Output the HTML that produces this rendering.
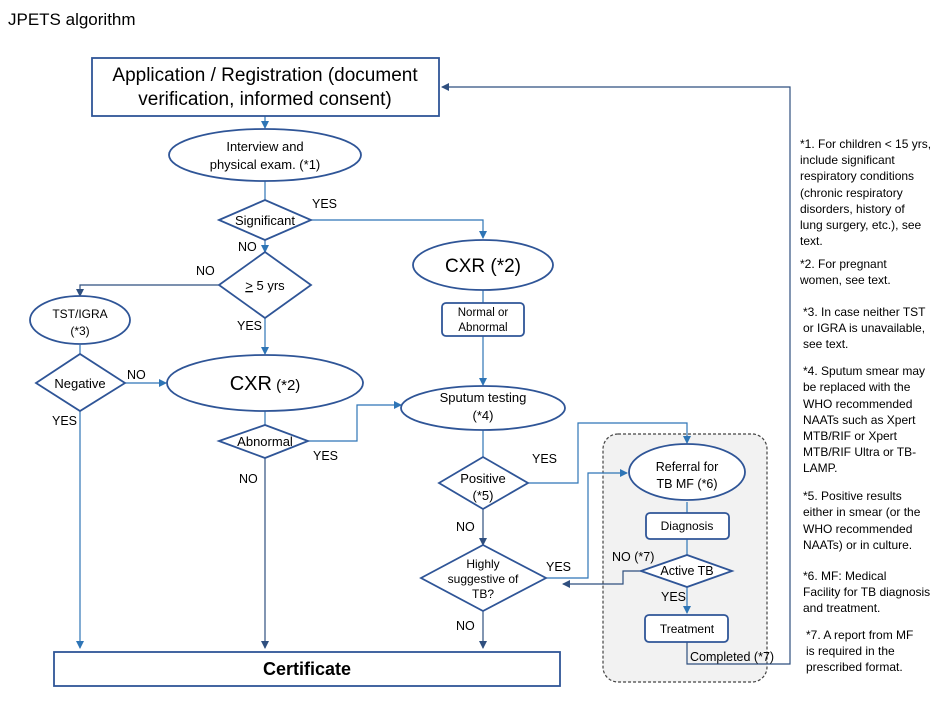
<!DOCTYPE html>
<html><head><meta charset="utf-8"><style>
body{margin:0;background:#fff;}
svg{display:block;font-family:"Liberation Sans",sans-serif;}
</style></head><body>
<svg width="952" height="706" viewBox="0 0 952 706" xmlns="http://www.w3.org/2000/svg">
<defs>
<marker id="a" markerWidth="8" markerHeight="8" refX="7" refY="4" orient="auto" markerUnits="userSpaceOnUse"><path d="M0,0 L8,4 L0,8 z" fill="#2e75b6"/></marker>
<marker id="b" markerWidth="8" markerHeight="8" refX="7" refY="4" orient="auto" markerUnits="userSpaceOnUse"><path d="M0,0 L8,4 L0,8 z" fill="#2f4f7f"/></marker>
</defs>
<text x="8" y="25" font-size="17" fill="#000">JPETS algorithm</text>

<g fill="none" stroke-width="1.2">
<path d="M265,116 V128" stroke="#2e75b6" marker-end="url(#a)"/>
<path d="M265,181 V200" stroke="#2e75b6"/>
<path d="M311,220 H483 V238" stroke="#2e75b6" marker-end="url(#a)"/>
<path d="M265,240 V252" stroke="#2e75b6" marker-end="url(#a)"/>
<path d="M219,285 H80 V296" stroke="#2f4f7f" marker-end="url(#b)"/>
<path d="M80,345 V354" stroke="#2e75b6"/>
<path d="M125,383 H166" stroke="#2e75b6" marker-end="url(#a)"/>
<path d="M265,318 V354" stroke="#2e75b6" marker-end="url(#a)"/>
<path d="M80,411 V648" stroke="#2e75b6" marker-end="url(#a)"/>
<path d="M265,410 V425" stroke="#2e75b6"/>
<path d="M308,441 H357 V405 H401" stroke="#2e75b6" marker-end="url(#a)"/>
<path d="M265,458 V648" stroke="#2f4f7f" marker-end="url(#b)"/>
<path d="M483,290 V303" stroke="#2e75b6"/>
<path d="M483,336 V385" stroke="#2e75b6" marker-end="url(#a)"/>
<path d="M483,430 V457" stroke="#2e75b6"/>
<path d="M483,509 V545" stroke="#2f4f7f" marker-end="url(#b)"/>
<path d="M483,611 V648" stroke="#2f4f7f" marker-end="url(#b)"/>
</g>

<rect x="603" y="434" width="164" height="248" rx="15" fill="#f2f2f2" stroke="#444" stroke-dasharray="3,2" stroke-width="1.2"/>
<g fill="none" stroke-width="1.2">
<path d="M528,483 H578 V423 H687 V443" stroke="#2e75b6" marker-end="url(#a)"/>
<path d="M546,578 H588 V473 H627" stroke="#2e75b6" marker-end="url(#a)"/>
<path d="M687,502 V513" stroke="#2e75b6"/>
<path d="M687,539 V555" stroke="#2e75b6"/>
<path d="M641,571 H623 V584 H563" stroke="#2f4f7f" marker-end="url(#b)"/>
<path d="M687,587 V613" stroke="#2e75b6" marker-end="url(#a)"/>
<path d="M687,642 V664 H790 V87 H442" stroke="#2f4f7f" marker-end="url(#b)"/>
</g>

<g stroke="#2f5597" stroke-width="1.8" fill="#fff">
<rect x="92" y="58" width="347" height="58"/>
<ellipse cx="265" cy="155" rx="96" ry="26"/>
<polygon points="219,220 265,200 311,220 265,240"/>
<polygon points="219,285 265,252 311,285 265,318"/>
<ellipse cx="80" cy="320" rx="50" ry="24"/>
<polygon points="36,383 80,354 125,383 80,411"/>
<ellipse cx="265" cy="383" rx="98" ry="28"/>
<polygon points="219,441 265,425 308,441 265,458"/>
<ellipse cx="483" cy="265" rx="70" ry="25"/>
<rect x="442" y="303" width="82" height="33" rx="4"/>
<ellipse cx="483" cy="408" rx="82" ry="22"/>
<polygon points="439,483 483,457 528,483 483,509"/>
<polygon points="421,578 483,545 546,578 483,611"/>
<rect x="54" y="652" width="506" height="34"/>
<ellipse cx="687" cy="472" rx="58" ry="28"/>
<rect x="646" y="513" width="83" height="26" rx="4"/>
<polygon points="641,571 687,555 732,571 687,587"/>
<rect x="645" y="615" width="83" height="27" rx="4"/>
</g>

<g fill="#000" text-anchor="middle">
<text x="265" y="81" font-size="19">Application / Registration (document</text>
<text x="265" y="105" font-size="19">verification, informed consent)</text>
<text x="265" y="151" font-size="13">Interview and</text>
<text x="265" y="169" font-size="13">physical exam. (*1)</text>
<text x="265" y="225" font-size="13">Significant</text>
<text x="265" y="290" font-size="13"><tspan text-decoration="underline">&gt;</tspan> 5 yrs</text>
<text x="80" y="318" font-size="12">TST/IGRA</text>
<text x="80" y="335" font-size="12">(*3)</text>
<text x="80" y="388" font-size="13">Negative</text>
<text x="265" y="390"><tspan font-size="20">CXR</tspan><tspan font-size="15"> (*2)</tspan></text>
<text x="265" y="446" font-size="13">Abnormal</text>
<text x="483" y="272" font-size="19">CXR (*2)</text>
<text x="483" y="316" font-size="11.5">Normal or</text>
<text x="483" y="331" font-size="11.5">Abnormal</text>
<text x="483" y="402" font-size="13">Sputum testing</text>
<text x="483" y="420" font-size="13">(*4)</text>
<text x="483" y="483" font-size="13">Positive</text>
<text x="483" y="500" font-size="13">(*5)</text>
<text x="483" y="568" font-size="12">Highly</text>
<text x="483" y="583" font-size="12">suggestive of</text>
<text x="483" y="598" font-size="12">TB?</text>
<text x="307" y="675" font-size="18" font-weight="bold">Certificate</text>
<text x="687" y="471" font-size="12.5">Referral for</text>
<text x="687" y="488" font-size="12.5">TB  MF (*6)</text>
<text x="687" y="530" font-size="12">Diagnosis</text>
<text x="687" y="575" font-size="12.5">Active TB</text>
<text x="687" y="633" font-size="12">Treatment</text>
</g>

<g fill="#000" font-size="12.5">
<text x="312" y="208">YES</text>
<text x="238" y="251">NO</text>
<text x="196" y="275">NO</text>
<text x="237" y="330">YES</text>
<text x="127" y="379">NO</text>
<text x="52" y="425">YES</text>
<text x="313" y="460">YES</text>
<text x="239" y="483">NO</text>
<text x="532" y="463">YES</text>
<text x="456" y="531">NO</text>
<text x="546" y="571">YES</text>
<text x="456" y="630">NO</text>
<text x="612" y="561">NO (*7)</text>
<text x="661" y="601">YES</text>
<text x="690" y="661">Completed (*7)</text>
</g>

<g fill="#000" font-size="12">
<text x="800" y="148">*1. For children &lt; 15 yrs,</text>
<text x="800" y="164">include significant</text>
<text x="800" y="180">respiratory conditions</text>
<text x="800" y="197">(chronic respiratory</text>
<text x="800" y="213">disorders, history of</text>
<text x="800" y="229">lung surgery, etc.), see</text>
<text x="800" y="245">text.</text>
<text x="800" y="268">*2. For pregnant</text>
<text x="800" y="284">women, see text.</text>
<text x="803" y="316">*3. In case neither TST</text>
<text x="803" y="332">or IGRA is unavailable,</text>
<text x="803" y="348">see text.</text>
<text x="803" y="375">*4. Sputum smear may</text>
<text x="803" y="391">be replaced with the</text>
<text x="803" y="408">WHO recommended</text>
<text x="803" y="424">NAATs such as Xpert</text>
<text x="803" y="440">MTB/RIF or Xpert</text>
<text x="803" y="456">MTB/RIF Ultra or TB-</text>
<text x="803" y="472">LAMP.</text>
<text x="803" y="500">*5. Positive results</text>
<text x="803" y="516">either in smear (or the</text>
<text x="803" y="533">WHO recommended</text>
<text x="803" y="549">NAATs) or in culture.</text>
<text x="803" y="580">*6. MF: Medical</text>
<text x="803" y="596">Facility for TB diagnosis</text>
<text x="803" y="612">and treatment.</text>
<text x="806" y="639">*7. A report from MF</text>
<text x="806" y="655">is required in the</text>
<text x="806" y="671">prescribed format.</text>
</g>
</svg>
</body></html>
